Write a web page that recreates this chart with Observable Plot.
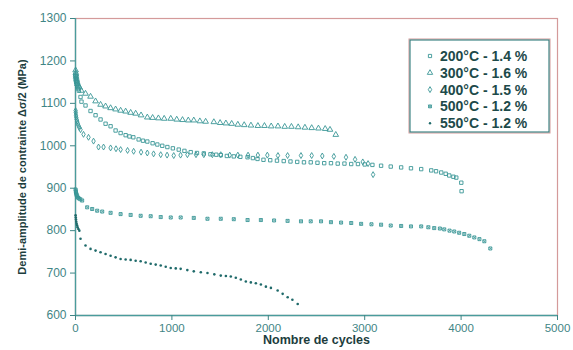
<!DOCTYPE html>
<html><head><meta charset="utf-8">
<script src="https://cdn.jsdelivr.net/npm/d3@7"></script>
<script src="https://cdn.jsdelivr.net/npm/@observablehq/plot@0.6"></script>
<style>
body{margin:0;background:#fff;}
#chart{position:relative;width:573px;height:350px;}
#chart svg{font-family:"Liberation Sans",Arial,sans-serif;}
</style></head><body><div id="chart"></div>
<script>
// ---- data ----
const seriesNames = ["200°C - 1.4 %", "300°C - 1.6 %", "400°C - 1.5 %", "500°C - 1.2 %", "550°C - 1.2 %"];
const xTicks = [0, 1000, 2000, 3000, 4000, 5000];
const yTicks = [600, 700, 800, 900, 1000, 1100, 1200, 1300];
const xTitle = "Nombre de cycles";
const yTitle = "Demi-amplitude de contrainte Δσ/2 (MPa)";

const cyc200 = [1,3,5,8,12,18,25,35,52,62,104,156,208,260,312,364,416,468,520,560,600,655,700,745,800,849,900,953,1010,1071,1130,1195,1260,1331,1400,1460,1507,1570,1642,1710,1785,1840,1888,1950,2020,2090,2160,2230,2300,2370,2440,2510,2580,2650,2720,2790,2860,2930,3000,3080,3170,3270,3378,3480,3586,3690,3740,3794,3840,3877,3920,3950,4002,4005];
const val200 = [1165,1160,1155,1150,1145,1140,1135,1130,1115,1104,1095,1082,1072,1062,1052,1046,1036,1030,1025,1022,1020,1015,1012,1010,1006,1003,1000,997,994,991,988,985,983,982,980,979,978,976,975,974,973,971,969,967,966,965,964,963,962,961,961,960,959,959,958,958,957,957,956,955,953,951,949,947,945,942,940,937,934,930,927,925,913,893];

const cyc300 = [1,3,5,7,10,13,17,22,30,40,60,104,156,208,260,312,364,416,468,520,572,624,680,745,800,860,920,988,1050,1110,1170,1227,1290,1350,1435,1500,1560,1620,1684,1750,1820,1892,1960,2030,2100,2170,2240,2310,2380,2450,2520,2590,2640,2700];
const val300 = [1178,1172,1168,1163,1158,1154,1150,1146,1142,1138,1130,1123,1116,1105,1097,1093,1089,1086,1083,1081,1078,1076,1072,1067,1066,1065,1064,1064,1062,1061,1060,1060,1058,1057,1056,1054,1053,1052,1050,1049,1048,1047,1047,1046,1046,1045,1045,1044,1043,1042,1041,1040,1038,1026];

const cyc400 = [1,3,5,8,12,17,23,30,40,52,83,135,187,239,291,364,420,468,540,603,680,745,810,884,950,1019,1090,1161,1250,1331,1420,1507,1600,1684,1790,1892,1990,2100,2200,2339,2450,2560,2680,2806,2900,2980,3035,3087];
const val400 = [1083,1078,1072,1067,1062,1058,1053,1048,1043,1038,1027,1020,1011,997,997,995,993,991,989,987,985,983,981,979,978,977,978,979,979,979,979,979,978,978,978,978,978,977,977,977,977,976,975,973,968,962,958,932];

const cyc500 = [1,3,5,8,12,17,25,35,50,69,121,173,225,277,364,468,572,676,780,884,988,1091,1227,1369,1507,1642,1785,1923,2060,2200,2339,2440,2547,2650,2755,2860,2963,3070,3170,3270,3378,3480,3586,3660,3721,3780,3825,3880,3929,3980,4033,4085,4137,4190,4241,4303];
const val500 = [897,893,890,887,884,881,878,876,874,871,855,851,847,845,842,839,837,835,834,832,831,831,830,828,828,827,825,825,824,823,822,822,822,820,819,818,816,815,814,812,811,810,810,808,806,805,803,800,798,795,792,788,784,780,775,758];

const cyc550 = [1,3,5,8,12,17,22,30,40,52,104,156,208,260,312,364,416,468,520,572,624,676,728,780,832,884,936,988,1040,1091,1160,1227,1300,1369,1440,1507,1560,1611,1663,1715,1767,1819,1871,1923,1975,2027,2097,2149,2201,2250,2305];
const val550 = [836,831,826,821,816,812,808,804,800,781,765,757,753,749,745,741,737,733,732,731,729,728,725,722,720,718,715,712,711,710,707,704,702,700,697,694,693,692,689,685,680,678,676,673,668,665,659,651,643,637,627];

// ---- styles ----
const teal = "#3a9696";
const dark = "#1f6a6a";
const axisColor = "#4a9c9c";
const frameRed = "#d49a9a";
const labelColor = "#3f8585";
const titleColor = "#1c3d3d";

const toRows = (cyc, val) => cyc.map((c, i) => ({cycles: c, value: val[i]}));
const d200 = toRows(cyc200, val200), d300 = toRows(cyc300, val300), d400 = toRows(cyc400, val400),
      d500 = toRows(cyc500, val500), d550 = toRows(cyc550, val550);

const legendDefs = [
  {name: seriesNames[0], symbols: ["square"], r: 1.8},
  {name: seriesNames[1], symbols: ["triangle"], r: 2.0},
  {name: seriesNames[2], symbols: ["diamond"], r: 1.8},
  {name: seriesNames[3], symbols: ["square", "times"], r: 1.6},
  {name: seriesNames[4], symbols: ["circle"], r: 1.2, fill: true}
];

const common = {x: "cycles", y: "value", strokeWidth: 0.9};
const chart = Plot.plot({
  width: 573, height: 350,
  marginLeft: 75, marginRight: 16, marginTop: 18, marginBottom: 35,
  x: {domain: [0, 5000]},
  y: {domain: [600, 1300]},
  style: {fontFamily: '"Liberation Sans", Arial, sans-serif', fontSize: "12px", background: "#fff"},
  marks: [
    Plot.frame({stroke: frameRed, strokeWidth: 1.2}),
    Plot.ruleX([0], {stroke: axisColor, strokeWidth: 1.4}),
    Plot.ruleY([600], {stroke: axisColor, strokeWidth: 1.4}),
    Plot.axisX({ticks: xTicks, tickSize: 5, tickPadding: 3, tickFormat: d3.format("d"), label: null, color: labelColor, fontSize: 11.5}),
    Plot.axisY({ticks: yTicks, tickSize: 5, tickPadding: 4, tickFormat: d3.format("d"), label: null, color: labelColor, fontSize: 12}),
    Plot.text([xTitle], {frameAnchor: "bottom", textAnchor: "middle", dy: 28.5, fontWeight: "bold", fontSize: 12.5, fill: titleColor}),
    Plot.text([yTitle], {frameAnchor: "left", textAnchor: "middle", dx: -53, rotate: -90, fontWeight: "bold", fontSize: 11, fill: titleColor}),
    Plot.dot(d300, {...common, symbol: "triangle", r: 2.1, stroke: teal}),
    Plot.dot(d200, {...common, symbol: "square", r: 1.9, stroke: teal}),
    Plot.dot(d400, {...common, symbol: "diamond", r: 1.8, stroke: teal}),
    Plot.dot(d500, {...common, symbol: "square", r: 1.7, stroke: teal}),
    Plot.dot(d500, {...common, symbol: "times", r: 1.4, stroke: teal, strokeWidth: 0.7}),
    Plot.dot(d550, {x: "cycles", y: "value", symbol: "circle", r: 1.3, fill: dark, stroke: "none"})
  ]
});
document.getElementById("chart").appendChild(chart);

// ---- legend (boxed, top right, like the original) ----
const svg = d3.select(chart);
const lg = svg.append("g").attr("transform", "translate(410,40)");
lg.append("rect").attr("x", -1).attr("y", -1).attr("width", 141).attr("height", 94).attr("fill", "#fff").attr("stroke", frameRed).attr("stroke-width", 1);
lg.append("rect").attr("width", 139).attr("height", 92).attr("fill", "none").attr("stroke", "#2f7a7a").attr("stroke-width", 1.1);
const symMap = {square: d3.symbolSquare, triangle: d3.symbolTriangle, diamond: d3.symbolDiamond, times: d3.symbolTimes, circle: d3.symbolCircle};
legendDefs.forEach((d, i) => {
  const row = lg.append("g").attr("transform", `translate(20,${16 + i * 16.8})`);
  d.symbols.forEach(s => {
    row.append("path")
      .attr("d", d3.symbol(symMap[s], Math.PI * d.r * d.r)())
      .attr("fill", d.fill ? dark : "none")
      .attr("stroke", d.fill ? "none" : teal)
      .attr("stroke-width", 0.9);
  });
  row.append("text").attr("x", 10).attr("dy", "0.35em").attr("text-anchor", "start")
    .attr("font-size", 14).attr("font-weight", "bold").attr("fill", "#1d4a4a")
    .text(d.name);
});
</script>
</body></html>
